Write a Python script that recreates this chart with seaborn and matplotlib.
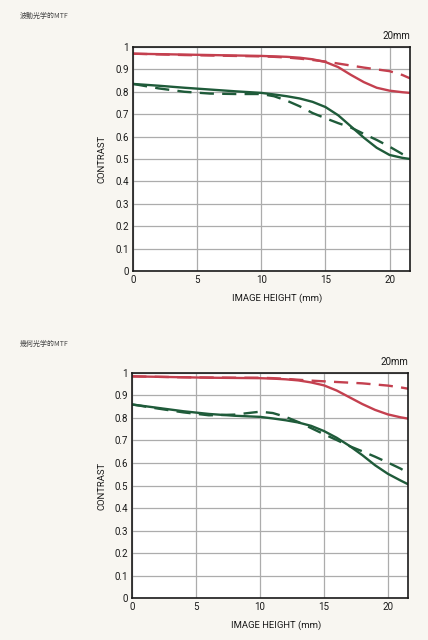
import numpy as np
import pandas as pd
import seaborn as sns
import matplotlib.pyplot as plt

# ── image height positions (mm) ──────────────────────────────────────────
X = [0, 2, 4, 6, 8, 10, 11, 12, 13, 14, 15, 16, 17, 18, 19, 20, 21, 21.6]

# 波動光学的MTF (wave optics)
wave_red_s = [0.970, 0.968, 0.966, 0.964, 0.962, 0.960, 0.958, 0.956, 0.952, 0.945, 0.933, 0.910, 0.875, 0.843, 0.818, 0.805, 0.798, 0.795]
wave_red_d = [0.970, 0.967, 0.964, 0.962, 0.960, 0.958, 0.956, 0.953, 0.948, 0.942, 0.935, 0.926, 0.917, 0.908, 0.900, 0.892, 0.875, 0.860]
wave_grn_s = [0.835, 0.827, 0.818, 0.810, 0.802, 0.795, 0.788, 0.780, 0.770, 0.755, 0.732, 0.695, 0.645, 0.595, 0.550, 0.518, 0.505, 0.500]
wave_grn_d = [0.835, 0.815, 0.800, 0.792, 0.790, 0.790, 0.780, 0.760, 0.735, 0.705, 0.682, 0.660, 0.640, 0.612, 0.585, 0.555, 0.522, 0.505]

# 幾何光学的MTF (geometric optics)
geo_red_s = [0.985, 0.983, 0.981, 0.979, 0.978, 0.977, 0.975, 0.972, 0.967, 0.958, 0.945, 0.922, 0.892, 0.862, 0.836, 0.816, 0.803, 0.797]
geo_red_d = [0.985, 0.983, 0.981, 0.980, 0.979, 0.979, 0.977, 0.974, 0.970, 0.966, 0.963, 0.960, 0.957, 0.954, 0.949, 0.944, 0.936, 0.930]
geo_grn_s = [0.860, 0.845, 0.830, 0.818, 0.810, 0.805, 0.798, 0.790, 0.780, 0.765, 0.742, 0.712, 0.676, 0.635, 0.590, 0.552, 0.522, 0.505]
geo_grn_d = [0.860, 0.842, 0.825, 0.812, 0.815, 0.828, 0.822, 0.805, 0.782, 0.755, 0.728, 0.702, 0.675, 0.652, 0.628, 0.602, 0.575, 0.555]

Y_TICKS = [0, 0.1, 0.2, 0.3, 0.4, 0.5, 0.6, 0.7, 0.8, 0.9, 1]
Y_LABELS = ['0', '0.1', '0.2', '0.3', '0.4', '0.5', '0.6', '0.7', '0.8', '0.9', '1']
X_TICKS = [0, 5, 10, 15, 20]

RED = '#c4404f'
GREEN = '#1f5b3a'
BG = '#f8f6f1'

sns.set_style("white")
plt.rcParams['font.family'] = ['Roboto', 'Noto Sans CJK JP', 'DejaVu Sans']

fig = plt.figure(figsize=(4.28, 6.4), dpi=100, facecolor=BG)


def draw_panel(rect, title, title_y, series):
    ax = fig.add_axes(rect)
    ax.set_facecolor('white')
    for vals, color, dashed in series:
        df = pd.DataFrame({'x': X, 'y': vals})
        line = sns.lineplot(data=df, x='x', y='y', ax=ax, color=color, lw=1.7)
        if dashed:
            line.lines[-1].set_dashes([6, 3.5])
    ax.set_xlim(0, 21.6)
    ax.set_ylim(0, 1)
    ax.set_yticks(Y_TICKS)
    ax.set_yticklabels(Y_LABELS)
    ax.set_xticks(X_TICKS)
    ax.grid(True, color='#acacac', lw=0.9)
    ax.tick_params(length=0, labelsize=7, pad=3, colors='#1a1a1a')
    for s in ax.spines.values():
        s.set_color('#1a1a1a')
        s.set_linewidth(1.2)
    ax.set_xlabel('IMAGE HEIGHT (mm)', fontsize=6.8, color='#1a1a1a')
    ax.xaxis.set_label_coords(0.52, -0.1)
    ax.set_ylabel('CONTRAST', fontsize=6.8, color='#1a1a1a', labelpad=6)
    ax.text(1.0, 1.025, '20mm', transform=ax.transAxes, ha='right', va='bottom',
            fontsize=7, color='#1a1a1a')
    fig.text(20 / 428, title_y, title, fontsize=5, color='#444444', va='center',
             family=['Noto Sans CJK JP', 'DejaVu Sans'])
    return ax


draw_panel([0.311, 0.5766, 0.647, 0.350], '波動光学的MTF', 1 - 16 / 640,
           [(wave_red_d, RED, True), (wave_red_s, RED, False),
            (wave_grn_d, GREEN, True), (wave_grn_s, GREEN, False)])
draw_panel([0.309, 0.0656, 0.645, 0.3516], '幾何光学的MTF', 1 - 344 / 640,
           [(geo_red_d, RED, True), (geo_red_s, RED, False),
            (geo_grn_d, GREEN, True), (geo_grn_s, GREEN, False)])

fig.savefig('out.png', dpi=100, facecolor=BG)
